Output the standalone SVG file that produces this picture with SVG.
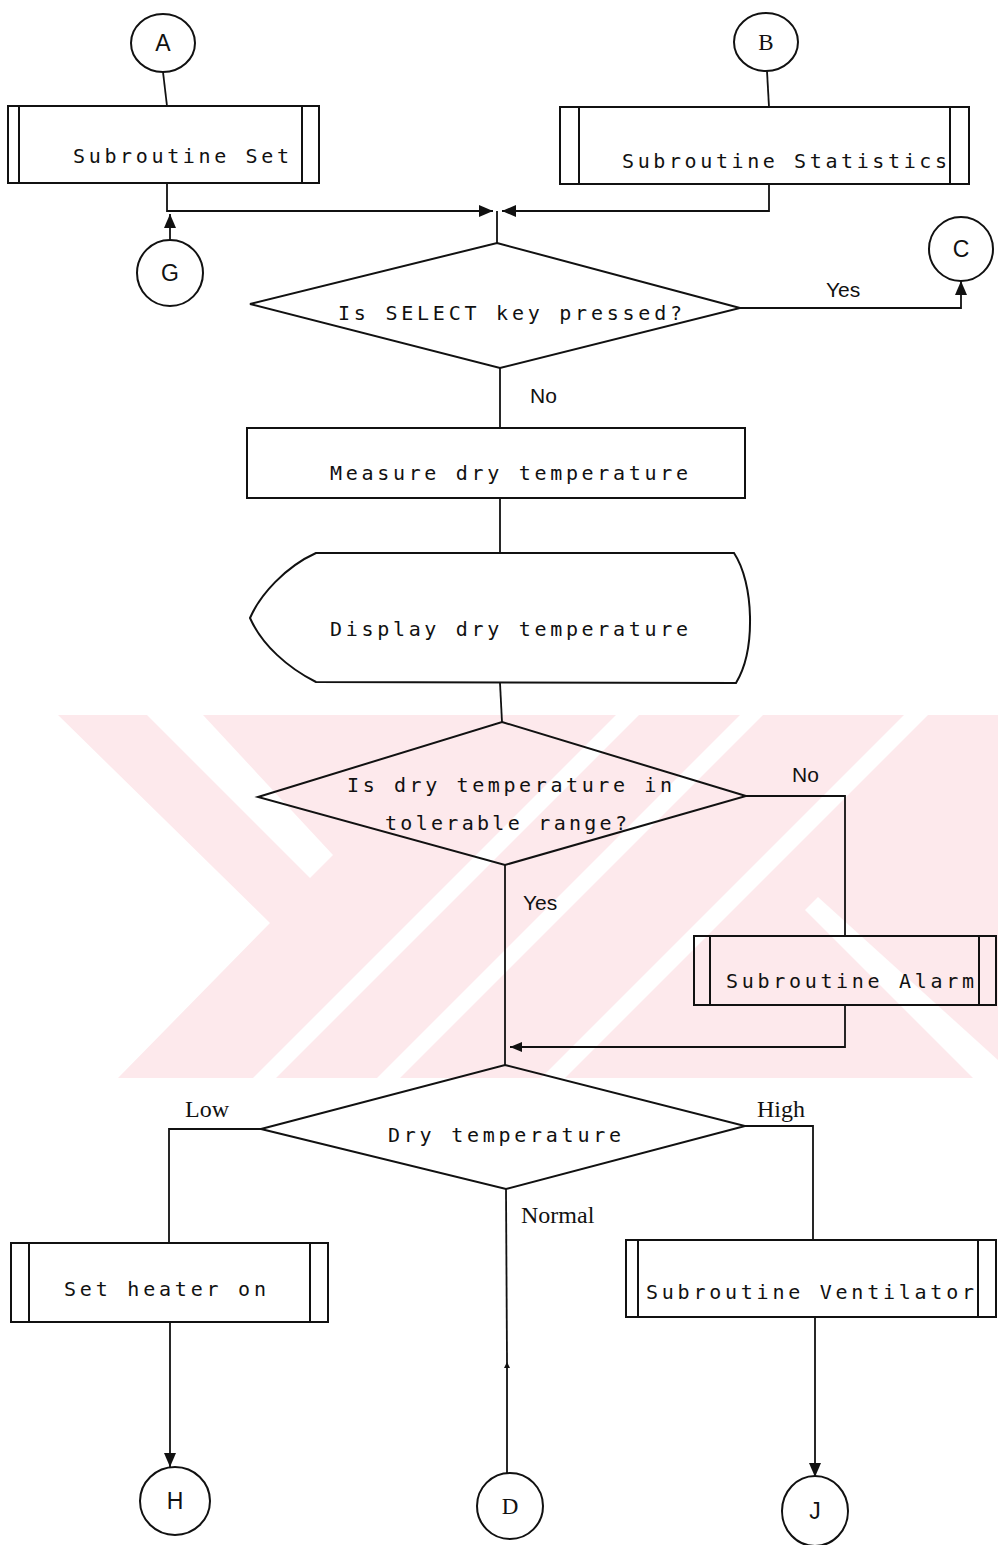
<svg xmlns="http://www.w3.org/2000/svg" width="998" height="1545" viewBox="0 0 998 1545">
<defs>
<style>
.ln{fill:none;stroke:#111;stroke-width:1.8;stroke-linejoin:miter}
.sh{fill:none;stroke:#111;stroke-width:2}
.mono{font-family:"DejaVu Sans Mono","Liberation Mono",monospace;font-size:20px;fill:#111}
.lbl{font-family:"Liberation Sans","Open Sans",sans-serif;font-size:21px;fill:#111}
.ser{font-family:"Liberation Serif","DejaVu Serif",serif;font-size:24px;fill:#111}
.cl{font-family:"Liberation Sans",Arial,sans-serif;font-size:23px;fill:#111;text-anchor:middle}
.wm{fill:#fde9ec}
.ww{fill:#ffffff}
</style>
<marker id="ah" viewBox="0 0 14 12" refX="14" refY="6" markerWidth="14" markerHeight="12" markerUnits="userSpaceOnUse" orient="auto">
<path d="M0,0 L14,6 L0,12 z" fill="#111"/>
</marker>
<marker id="ahs" viewBox="0 0 12 10" refX="12" refY="5" markerWidth="12" markerHeight="10" markerUnits="userSpaceOnUse" orient="auto">
<path d="M0,0 L12,5 L0,10 z" fill="#111"/>
</marker>
<marker id="aht" viewBox="0 0 6 6" refX="6" refY="3" markerWidth="6" markerHeight="6" markerUnits="userSpaceOnUse" orient="auto">
<path d="M0,0 L6,3 L0,6 z" fill="#111"/>
</marker>
</defs>
<rect width="998" height="1545" fill="#ffffff"/>
<g id="watermark">
<polygon class="wm" points="58,715 998,715 998,1078 118,1078 270,923"/>
<polygon class="ww" points="147,715 203,715 333,855 310,878"/>
<polygon class="ww" points="253,1078 276,1078 639,715 616,715"/>
<polygon class="ww" points="377,1078 400,1078 763,715 740,715"/>
<polygon class="ww" points="541,1078 565,1078 928,715 904,715"/>
<polygon class="ww" points="805,910 973,1078 998,1078 998,1060 818,897"/>
</g>
<g id="connectors">
<path class="ln" d="M163,72 L167,106"/>
<path class="ln" d="M767,71 L769,107"/>
<path class="ln" d="M170,240 L170,214" marker-end="url(#ah)"/>
<path class="ln" d="M167,183 L167,211 L493,211" marker-end="url(#ah)"/>
<path class="ln" d="M769,184 L769,211 L502,211" marker-end="url(#ah)"/>
<path class="ln" d="M497,211 L497,243"/>
<path class="ln" d="M740,308 L961,308 L961,281" marker-end="url(#ah)"/>
<path class="ln" d="M500,368 L500,428"/>
<path class="ln" d="M500,498 L500,553"/>
<path class="ln" d="M500,683 L502,722"/>
<path class="ln" d="M505,865 L505,1065"/>
<path class="ln" d="M746,796 L845,796 L845,936"/>
<path class="ln" d="M845,1005 L845,1047 L510,1047" marker-end="url(#ahs)"/>
<path class="ln" d="M261,1129 L169,1129 L169,1243"/>
<path class="ln" d="M745,1126 L813,1126 L813,1240"/>
<path class="ln" d="M170,1322 L170,1467" marker-end="url(#ah)"/>
<path class="ln" d="M815,1317 L815,1477" marker-end="url(#ah)"/>
<path class="ln" d="M507,1473 L507,1362" marker-end="url(#aht)"/>
<path class="ln" d="M507,1362 L506,1189"/>
<text class="lbl" x="826" y="297">Yes</text>
<text class="lbl" x="530" y="403">No</text>
<text class="lbl" x="792" y="782">No</text>
<text class="lbl" x="523" y="910">Yes</text>
<text class="ser" x="185" y="1117">Low</text>
<text class="ser" x="757" y="1117">High</text>
<text class="ser" x="521" y="1223">Normal</text>
</g>
<g id="node-A">
<ellipse class="sh" cx="163" cy="43" rx="32" ry="29"/>
<text class="cl" x="163" y="51">A</text>
</g>
<g id="node-B">
<ellipse class="sh" cx="766" cy="42" rx="32" ry="29"/>
<text class="cl" x="766" y="50" style="font-family:'Liberation Serif',serif">B</text>
</g>
<g id="node-set">
<rect class="sh" x="8" y="106" width="311" height="77"/>
<line class="sh" x1="19" y1="106" x2="19" y2="183"/>
<line class="sh" x1="302" y1="106" x2="302" y2="183"/>
<text class="mono" x="73" y="163" textLength="216" lengthAdjust="spacing">Subroutine Set</text>
</g>
<g id="node-statistics">
<rect class="sh" x="560" y="107" width="409" height="77"/>
<line class="sh" x1="579" y1="107" x2="579" y2="184"/>
<line class="sh" x1="950" y1="107" x2="950" y2="184"/>
<text class="mono" x="622" y="168" textLength="325" lengthAdjust="spacing">Subroutine Statistics</text>
</g>
<g id="node-G">
<circle class="sh" cx="170" cy="273" r="33"/>
<text class="cl" x="170" y="281">G</text>
</g>
<g id="node-C">
<circle class="sh" cx="961" cy="249" r="32"/>
<text class="cl" x="961" y="257">C</text>
</g>
<g id="node-select">
<polygon class="sh" points="497,243 740,308 500,368 250,304"/>
<text class="mono" x="338" y="320" textLength="344" lengthAdjust="spacing">Is SELECT key pressed?</text>
</g>
<g id="node-measure">
<rect class="sh" x="247" y="428" width="498" height="70"/>
<text class="mono" x="330" y="480" textLength="358" lengthAdjust="spacing">Measure dry temperature</text>
</g>
<g id="node-display">
<path class="sh" d="M316,553 L734,553 C754,583 756,650 736,683 L316,682 C288,668 262,645 250,618 C260,595 285,567 316,553 Z"/>
<text class="mono" x="330" y="636" textLength="358" lengthAdjust="spacing">Display dry temperature</text>
</g>
<g id="node-tolerable">
<polygon class="sh" points="502,722 746,796 505,865 258,797"/>
<text class="mono" x="347" y="792" textLength="325" lengthAdjust="spacing">Is dry temperature in</text>
<text class="mono" x="385" y="830" textLength="242" lengthAdjust="spacing">tolerable range?</text>
</g>
<g id="node-alarm">
<rect class="sh" x="694" y="936" width="302" height="69"/>
<line class="sh" x1="710" y1="936" x2="710" y2="1005"/>
<line class="sh" x1="979" y1="936" x2="979" y2="1005"/>
<text class="mono" x="726" y="988" textLength="248" lengthAdjust="spacing">Subroutine Alarm</text>
</g>
<g id="node-drytemp">
<polygon class="sh" points="505,1065 745,1126 506,1189 261,1129"/>
<text class="mono" x="388" y="1142" textLength="233" lengthAdjust="spacing">Dry temperature</text>
</g>
<g id="node-heater">
<rect class="sh" x="11" y="1243" width="317" height="79"/>
<line class="sh" x1="29" y1="1243" x2="29" y2="1322"/>
<line class="sh" x1="310" y1="1243" x2="310" y2="1322"/>
<text class="mono" x="64" y="1296" textLength="202" lengthAdjust="spacing">Set heater on</text>
</g>
<g id="node-ventilator">
<rect class="sh" x="626" y="1240" width="370" height="77"/>
<line class="sh" x1="638" y1="1240" x2="638" y2="1317"/>
<line class="sh" x1="978" y1="1240" x2="978" y2="1317"/>
<text class="mono" x="646" y="1299" textLength="328" lengthAdjust="spacing">Subroutine Ventilator</text>
</g>
<g id="node-H">
<ellipse class="sh" cx="175" cy="1501" rx="35" ry="34"/>
<text class="cl" x="175" y="1509">H</text>
</g>
<g id="node-D">
<ellipse class="sh" cx="510" cy="1506" rx="33" ry="33"/>
<text class="cl" x="510" y="1514" style="font-family:'Liberation Serif',serif">D</text>
</g>
<g id="node-J">
<ellipse class="sh" cx="815" cy="1511" rx="33" ry="35"/>
<text class="cl" x="815" y="1519">J</text>
</g>
</svg>
